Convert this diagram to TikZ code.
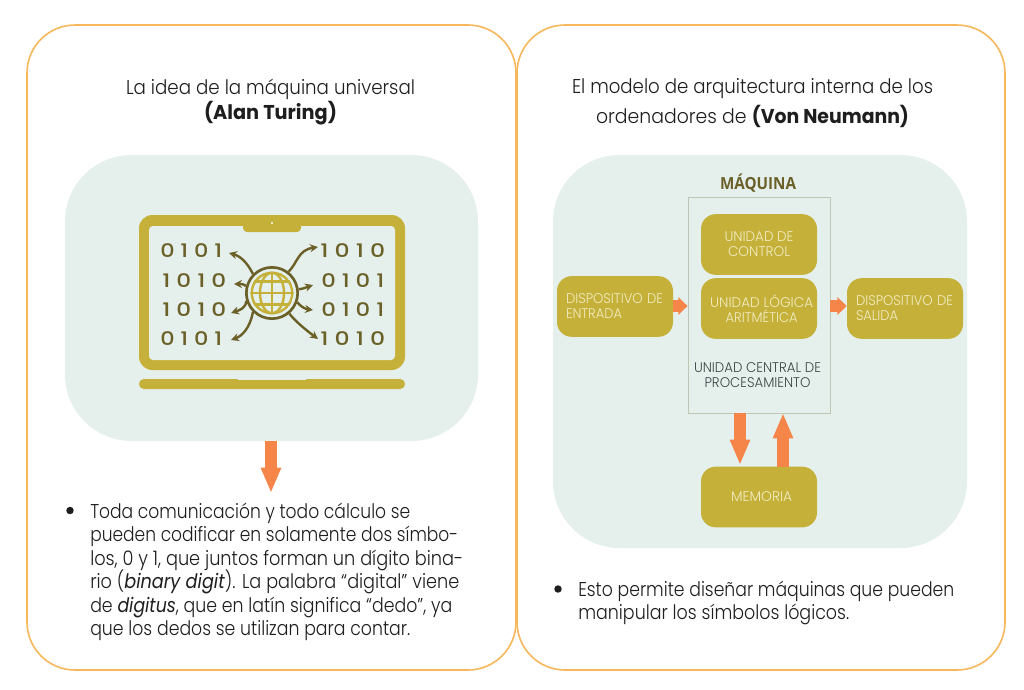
\documentclass[tikz,border=0pt]{standalone}
\usepackage{fontspec}
\usepackage{graphicx}
\usetikzlibrary{arrows.meta,calc,positioning}
\setmainfont{Poppins}[UprightFont=* Light,BoldFont=* Bold,ItalicFont=* Italic,BoldItalicFont=* Bold Italic]
\newfontfamily\headfont{Open Sans}[BoldFont=* Bold]
\newfontfamily\digitfont{Poppins Medium}
\definecolor{panel}{HTML}{E5F0ED}
\definecolor{gold}{HTML}{C5B139}
\definecolor{olive}{HTML}{6B6028}
\definecolor{orangeA}{HTML}{F58549}
\definecolor{borderC}{HTML}{F7B85C}
\definecolor{paleT}{HTML}{F1ECC4}
\definecolor{inkT}{HTML}{1E1E1E}
\definecolor{cpuT}{HTML}{3C4646}
\definecolor{cpuB}{HTML}{BFC7B4}
\newcommand\fw[2]{\resizebox{#1\dimexpr0.75pt\relax}{\height}{#2}}
\tikzset{
 card/.style={draw=borderC,line width=1.2pt,fill=white,rounded corners=36pt,inner sep=0pt},
 cloudbox/.style={fill=panel,rounded corners=50pt,inner sep=0pt},
 goldbox/.style={fill=gold,rounded corners=11pt,inner sep=0pt,minimum width=87pt,minimum height=45.5pt,text=paleT,font=\fontsize{10.5}{11.2}\selectfont},
 txt/.style={anchor=base west,inner sep=0pt,text=inkT,font=\fontsize{15}{18}\selectfont},
 title/.style={anchor=base,inner sep=0pt,text=inkT,font=\fontsize{15}{18}\selectfont},
 digits/.style={anchor=base west,inner sep=0pt,text=olive,font=\digitfont\fontsize{14}{16}\selectfont},
 fat/.style={draw=orangeA,line width=9pt,-{Triangle[length=19pt,width=14pt,fill=orangeA]}},
 fatsmall/.style={draw=orangeA,line width=9pt,-{Triangle[length=7pt,width=13pt,fill=orangeA]}},
 thin/.style={draw=olive,line width=1.8pt,-{Stealth[length=6pt,width=6pt]}},
 bulletdot/.style={circle,fill=inkT,inner sep=0pt,minimum size=5.6pt},
}
\begin{document}
\begin{tikzpicture}[x=0.75pt,y=-0.75pt]
\useasboundingbox (0,0) rectangle (1024,689);
\node[card,minimum width=366.75pt,minimum height=483.75pt] (cardL) at (271.5,347.5) {};
\node[card,minimum width=366pt,minimum height=483.75pt] (cardR) at (761,347.5) {};
\node[cloudbox,minimum width=309.75pt,minimum height=214.5pt] (cloudL) at (271.5,298) {};
\node[cloudbox,minimum width=310.5pt,minimum height=294.75pt] (cloudR) at (760,351.5) {};
% titles
\node[title] (t1) at (270.5,94) {\fw{289}{La idea de la máquina universal}};
\node[title] (t2) at (270.5,119) {\fw{133}{\textbf{(Alan Turing)}}};
\node[title] (t3) at (752.5,93) {\fw{361}{El modelo de arquitectura interna de los}};
\node[title] (t4) at (752.5,123) {\fw{313}{ordenadores de \textbf{(Von Neumann)}}};
% laptop
\fill[gold,rounded corners=10pt] (139,215) rectangle (405,370);
\fill[panel,rounded corners=3pt] (149,226) rectangle (395,360);
\fill[gold,rounded corners=3pt] (243,220) rectangle (301,232);
\fill[white] (272,223) circle (0.8pt);
\fill[gold,rounded corners=3.7pt] (139,379) rectangle (405,389);
\fill[panel] (238,378.4) rectangle (306,380);
\node[digits] (d1) at (160,257) {\fw{62}{0 1 0 1}};
\node[digits] (d2) at (162,287) {\fw{64}{1 0 1 0}};
\node[digits] (d3) at (162,316) {\fw{64}{1 0 1 0}};
\node[digits] (d4) at (160,345) {\fw{62}{0 1 0 1}};
\node[digits] (d5) at (320,257) {\fw{65}{1 0 1 0}};
\node[digits] (d6) at (321,287) {\fw{63}{0 1 0 1}};
\node[digits] (d7) at (321,316) {\fw{63}{0 1 0 1}};
\node[digits] (d8) at (320,345) {\fw{65}{1 0 1 0}};
% globe
\node[circle,draw=olive,line width=2pt,minimum size=38.5pt,inner sep=0pt] (globe) at (272,293) {};
\begin{scope}[gold,line width=1.8pt]
\clip (272,293) circle (16.2pt);
\draw (272,293) circle (15.2pt);
\draw (272,293) ellipse (9pt and 15.2pt);
\draw (272,272) -- (272,314);
\draw (250,293) -- (294,293);
\draw (250,281.5) -- (294,281.5);
\draw (250,304.5) -- (294,304.5);
\end{scope}
\coordinate (a1) at (229,253); \coordinate (a2) at (234,284);
\coordinate (a3) at (231,313); \coordinate (a4) at (231,340);
\coordinate (a5) at (318,247); \coordinate (a6) at (313,285);
\coordinate (a7) at (313,310); \coordinate (a8) at (318,339);
\draw[thin] (globe.135) .. controls (247,262) and (240,256) .. (a1);
\draw[thin] (globe.165) .. controls (243,283.5) and (240,284) .. (a2);
\draw[thin] (globe.197) .. controls (246,308) and (240,310) .. (a3);
\draw[thin] (globe.225) .. controls (250,328) and (242,336) .. (a4);
\draw[thin] (globe.52) .. controls (298,262) and (298,250) .. (a5);
\draw[thin] (globe.8) .. controls (303,289) and (307,287) .. (a6);
\draw[thin] (globe.-20) .. controls (300,306) and (305,309) .. (a7);
\draw[thin] (globe.-50) .. controls (296,322) and (306,330) .. (a8);
% left arrow + text
\coordinate (l1) at (271,441); \coordinate (l2) at (271,493);
\draw[fat] (l1) -- (l2);
\node[bulletdot] (bL) at (70,510.5) {};
\node[txt] (p1) at (90,518) {\fw{320}{Toda comunicación y todo cálculo se}};
\node[txt] (p2) at (90,541.5) {\fw{368}{pueden codificar en solamente dos símbo-}};
\node[txt] (p3) at (90,565) {\fw{373}{los, 0 y 1, que juntos forman un dígito bina-}};
\node[txt] (p4) at (90,588.5) {\fw{369}{rio (\textit{binary digit}). La palabra “digital” viene}};
\node[txt] (p5) at (90,612) {\fw{362}{de \textit{digitus}, que en latín significa “dedo”, ya}};
\node[txt] (p6) at (90,635) {\fw{320}{que los dedos se utilizan para contar.}};
% right diagram
\node[anchor=base,inner sep=0pt,text=olive,font=\headfont\bfseries\fontsize{12.5}{14}\selectfont] (maq) at (758,189) {\fw{76}{MÁQUINA}};
\node[draw=cpuB,line width=0.6pt,fill=panel,minimum width=106.5pt,minimum height=162pt,inner sep=0pt] (cpu) at (759,305) {};
\node[goldbox,align=center] (uc) at (759,244.5) {\fw{69}{UNIDAD DE}\\\fw{62}{CONTROL}};
\node[goldbox,align=center] (alu) at (759,308.5) {\hspace*{4pt}\fw{103}{UNIDAD LÓGICA}\\\hspace*{4pt}\fw{72}{ARITMÉTICA}};
\node[goldbox,align=left,text width=73.5pt] (ent) at (615,306.5) {\fw{97}{DISPOSITIVO DE}\\\fw{56}{ENTRADA}};
\node[goldbox,align=left,text width=73.5pt] (sal) at (905,308.5) {\fw{97}{DISPOSITIVO DE}\\\fw{42}{SALIDA}};
\node[goldbox] (mem) at (759,497) {\hspace*{4pt}\fw{61}{MEMORIA}};
\node[anchor=center,inner sep=0pt,align=center,text=cpuT,font=\fontsize{10.5}{11.2}\selectfont] (cpul) at (757.5,375.5) {\fw{127}{UNIDAD CENTRAL DE}\\\fw{106}{PROCESAMIENTO}};
\draw[fatsmall] (ent.east|-0,306) -- (cpu.west|-0,306);
\draw[fatsmall] (cpu.east|-0,306) -- (sal.west|-0,306);
\coordinate (m1) at (740,413); \coordinate (m2) at (740,465);
\coordinate (m3) at (783,467); \coordinate (m4) at (783,413);
\draw[fat] (m1) -- (m2);
\draw[fat] (m3) -- (m4);
\node[bulletdot] (bR) at (558,589) {};
\node[txt] (q1) at (578,596.5) {\fw{376}{Esto permite diseñar máquinas que pueden}};
\node[txt] (q2) at (578,619.5) {\fw{271}{manipular los símbolos lógicos.}};
\end{tikzpicture}
\end{document}
